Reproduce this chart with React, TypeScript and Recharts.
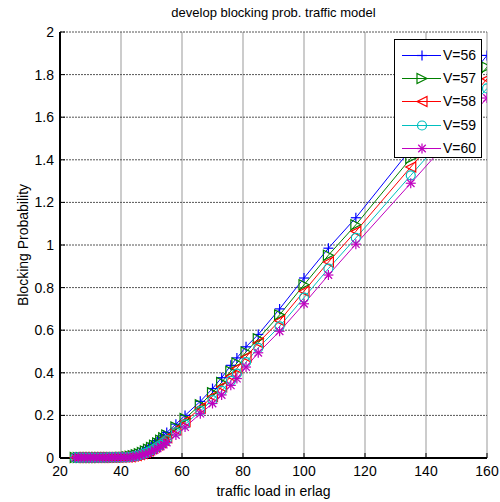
import React from 'react';
import { LineChart, Line, XAxis, YAxis, CartesianGrid, Legend } from 'recharts';

const loads = [25, 26, 27, 28, 29, 30, 31, 32, 33, 34, 35, 36, 37, 38, 39, 40, 41, 42, 43, 44, 45, 46, 47, 48, 49, 50, 51, 52, 53, 54, 55, 58, 61, 66, 70, 73, 76, 78, 81, 85, 92, 100, 108, 117, 135, 160];

const v56 = [0.002, 0.002, 0.002, 0.002, 0.002, 0.002, 0.002, 0.002, 0.003, 0.003, 0.003, 0.003, 0.003, 0.003, 0.004, 0.004, 0.005, 0.007, 0.010, 0.014, 0.019, 0.025, 0.032, 0.040, 0.049, 0.059, 0.070, 0.082, 0.094, 0.107, 0.120, 0.159, 0.200, 0.266, 0.326, 0.377, 0.435, 0.470, 0.522, 0.580, 0.700, 0.845, 0.985, 1.128, 1.450, 1.890];
const v57 = [0.002, 0.002, 0.002, 0.002, 0.002, 0.002, 0.002, 0.002, 0.002, 0.003, 0.003, 0.003, 0.003, 0.003, 0.003, 0.004, 0.004, 0.006, 0.008, 0.011, 0.015, 0.020, 0.026, 0.033, 0.041, 0.050, 0.060, 0.071, 0.083, 0.095, 0.108, 0.146, 0.185, 0.250, 0.307, 0.355, 0.408, 0.446, 0.498, 0.560, 0.672, 0.813, 0.952, 1.095, 1.407, 1.835];
const v58 = [0.002, 0.002, 0.002, 0.002, 0.002, 0.002, 0.002, 0.002, 0.002, 0.002, 0.003, 0.003, 0.003, 0.003, 0.003, 0.003, 0.004, 0.004, 0.006, 0.009, 0.012, 0.016, 0.021, 0.027, 0.034, 0.043, 0.051, 0.061, 0.072, 0.083, 0.095, 0.133, 0.171, 0.235, 0.289, 0.334, 0.384, 0.421, 0.474, 0.541, 0.644, 0.783, 0.920, 1.064, 1.366, 1.780];
const v59 = [0.002, 0.002, 0.002, 0.002, 0.002, 0.002, 0.002, 0.002, 0.002, 0.002, 0.002, 0.003, 0.003, 0.003, 0.003, 0.003, 0.003, 0.003, 0.005, 0.007, 0.009, 0.013, 0.017, 0.023, 0.029, 0.036, 0.044, 0.053, 0.062, 0.073, 0.084, 0.121, 0.158, 0.221, 0.272, 0.315, 0.362, 0.396, 0.450, 0.517, 0.618, 0.753, 0.889, 1.033, 1.327, 1.735];
const v60 = [0.002, 0.002, 0.002, 0.002, 0.002, 0.002, 0.002, 0.002, 0.002, 0.002, 0.002, 0.002, 0.003, 0.003, 0.003, 0.003, 0.003, 0.003, 0.003, 0.005, 0.007, 0.010, 0.014, 0.018, 0.023, 0.030, 0.037, 0.045, 0.054, 0.063, 0.073, 0.108, 0.145, 0.208, 0.256, 0.296, 0.341, 0.373, 0.427, 0.494, 0.595, 0.724, 0.859, 1.004, 1.290, 1.690];

const seriesNames = ['V=56', 'V=57', 'V=58', 'V=59', 'V=60'];
const seriesKeys = ['v56', 'v57', 'v58', 'v59', 'v60'];
const seriesColors = ['#0000FF', '#008000', '#FF0000', '#00BFBF', '#BF00BF'];
const seriesMarkers = ['plus', 'triRight', 'triLeft', 'circle', 'star'];

const xTicks = [20, 40, 60, 80, 100, 120, 140, 160];
const yTicks = [0, 0.2, 0.4, 0.6, 0.8, 1, 1.2, 1.4, 1.6, 1.8, 2];

const titleText = 'develop blocking prob. traffic model';
const xLabel = 'traffic load in erlag';
const yLabel = 'Blocking Probability';

const seriesValues = [v56, v57, v58, v59, v60];
const data = loads.map((x, i) => {
  const row: Record<string, number> = { x };
  seriesKeys.forEach((k, j) => {
    row[k] = seriesValues[j][i];
  });
  return row;
});

const FONT = '"Liberation Sans", Arial, sans-serif';

function Marker({ type, cx, cy, color }: { type: string; cx: number; cy: number; color: string }) {
  if (cx == null || cy == null || isNaN(cx) || isNaN(cy)) return null;
  const s = 5;
  switch (type) {
    case 'plus':
      return (
        <g stroke={color} strokeWidth={1.2} fill="none">
          <line x1={cx - s} y1={cy} x2={cx + s} y2={cy} />
          <line x1={cx} y1={cy - s} x2={cx} y2={cy + s} />
        </g>
      );
    case 'triRight':
      return (
        <polygon
          points={`${cx + s},${cy} ${cx - s},${cy - s} ${cx - s},${cy + s}`}
          stroke={color}
          strokeWidth={1.2}
          fill="none"
        />
      );
    case 'triLeft':
      return (
        <polygon
          points={`${cx - s},${cy} ${cx + s},${cy - s} ${cx + s},${cy + s}`}
          stroke={color}
          strokeWidth={1.2}
          fill="none"
        />
      );
    case 'circle':
      return <circle cx={cx} cy={cy} r={4.5} stroke={color} strokeWidth={1.2} fill="none" />;
    case 'star': {
      const d = s * 0.75;
      return (
        <g stroke={color} strokeWidth={1.2} fill="none">
          <line x1={cx - s} y1={cy} x2={cx + s} y2={cy} />
          <line x1={cx} y1={cy - s} x2={cx} y2={cy + s} />
          <line x1={cx - d} y1={cy - d} x2={cx + d} y2={cy + d} />
          <line x1={cx - d} y1={cy + d} x2={cx + d} y2={cy - d} />
        </g>
      );
    }
    default:
      return null;
  }
}

function LegendBox() {
  return (
    <div
      style={{
        width: 88,
        height: 119,
        border: '1px solid #000',
        background: '#fff',
        boxSizing: 'border-box',
        fontFamily: FONT,
        fontSize: 14,
        position: 'relative',
      }}
    >
      {seriesNames.map((name, i) => (
        <div
          key={name}
          style={{ position: 'absolute', left: 0, top: 3.5 + i * 23.4, height: 23, width: '100%' }}
        >
          <svg width={48} height={23} style={{ position: 'absolute', left: 4, top: 0 }}>
            <line x1={3} y1={11.5} x2={42} y2={11.5} stroke={seriesColors[i]} strokeWidth={1} />
            <Marker type={seriesMarkers[i]} cx={23} cy={11.5} color={seriesColors[i]} />
          </svg>
          <span style={{ position: 'absolute', left: 48, top: 3, lineHeight: '16px', color: '#000' }}>{name}</span>
        </div>
      ))}
    </div>
  );
}

export default function App() {
  return (
    <div style={{ position: 'absolute', left: 0, top: 0, width: 500, height: 502, background: '#fff' }}>
      <LineChart
        width={500}
        height={502}
        data={data}
        margin={{ top: 32, right: 13, bottom: 0, left: 0 }}
      >
        <CartesianGrid
          xAxisId="bottom"
          yAxisId="left"
          horizontal={false}
          vertical={true}
          stroke="#999"
          strokeWidth={1}
        />
        <CartesianGrid
          xAxisId="bottom"
          yAxisId="left"
          horizontal={true}
          vertical={false}
          stroke="#555"
          strokeDasharray="2 1"
          strokeWidth={1}
        />
        <XAxis
          xAxisId="bottom"
          dataKey="x"
          type="number"
          domain={[20, 160]}
          ticks={xTicks}
          interval={0}
          height={44}
          tickSize={-5}
          tickMargin={13}
          axisLine={{ stroke: '#000', strokeWidth: 2 }}
          tickLine={{ stroke: '#000' }}
          tick={{ fill: '#000', fontSize: 14, fontFamily: FONT }}
          allowDataOverflow
        />
        <XAxis
          xAxisId="top"
          orientation="top"
          dataKey="x"
          type="number"
          domain={[20, 160]}
          ticks={xTicks}
          interval={0}
          height={0}
          tickSize={-5}
          tickFormatter={() => ''}
          axisLine={{ stroke: '#000', strokeWidth: 2 }}
          tickLine={{ stroke: '#000' }}
        />
        <YAxis
          yAxisId="left"
          type="number"
          domain={[0, 2]}
          ticks={yTicks}
          interval={0}
          width={60}
          tickSize={-5}
          tickMargin={11}
          axisLine={{ stroke: '#000', strokeWidth: 2 }}
          tickLine={{ stroke: '#000' }}
          tick={{ fill: '#000', fontSize: 14, fontFamily: FONT }}
          tickFormatter={(v: number) => String(v)}
        />
        <YAxis
          yAxisId="right"
          orientation="right"
          type="number"
          domain={[0, 2]}
          ticks={yTicks}
          interval={0}
          width={0}
          tickSize={-5}
          tickFormatter={() => ''}
          axisLine={{ stroke: '#000', strokeWidth: 2 }}
          tickLine={{ stroke: '#000' }}
        />
        {seriesKeys.map((k, i) => (
          <Line
            key={k}
            xAxisId="bottom"
            yAxisId="left"
            type="linear"
            dataKey={k}
            name={seriesNames[i]}
            stroke={seriesColors[i]}
            strokeWidth={1}
            isAnimationActive={false}
            dot={(p: any) => (
              <Marker key={`${k}-${p.index}`} type={seriesMarkers[i]} cx={p.cx} cy={p.cy} color={seriesColors[i]} />
            )}
            activeDot={false}
          />
        ))}
        <Legend
          layout="vertical"
          align="center"
          verticalAlign="middle"
          content={() => <LegendBox />}
          wrapperStyle={{ position: 'absolute', left: 394, top: 39, width: 88, height: 119 }}
        />
      </LineChart>
      <div
        style={{
          position: 'absolute',
          left: 60,
          width: 427,
          top: 5,
          textAlign: 'center',
          fontFamily: FONT,
          fontSize: 13,
          color: '#000',
        }}
      >
        {titleText}
      </div>
      <div
        style={{
          position: 'absolute',
          left: 60,
          width: 427,
          top: 483,
          textAlign: 'center',
          fontFamily: FONT,
          fontSize: 14,
          color: '#000',
        }}
      >
        {xLabel}
      </div>
      <div
        style={{
          position: 'absolute',
          left: 23,
          top: 245,
          transform: 'translate(-50%, -50%) rotate(-90deg)',
          whiteSpace: 'nowrap',
          fontFamily: FONT,
          fontSize: 14,
          color: '#000',
        }}
      >
        {yLabel}
      </div>
    </div>
  );
}
